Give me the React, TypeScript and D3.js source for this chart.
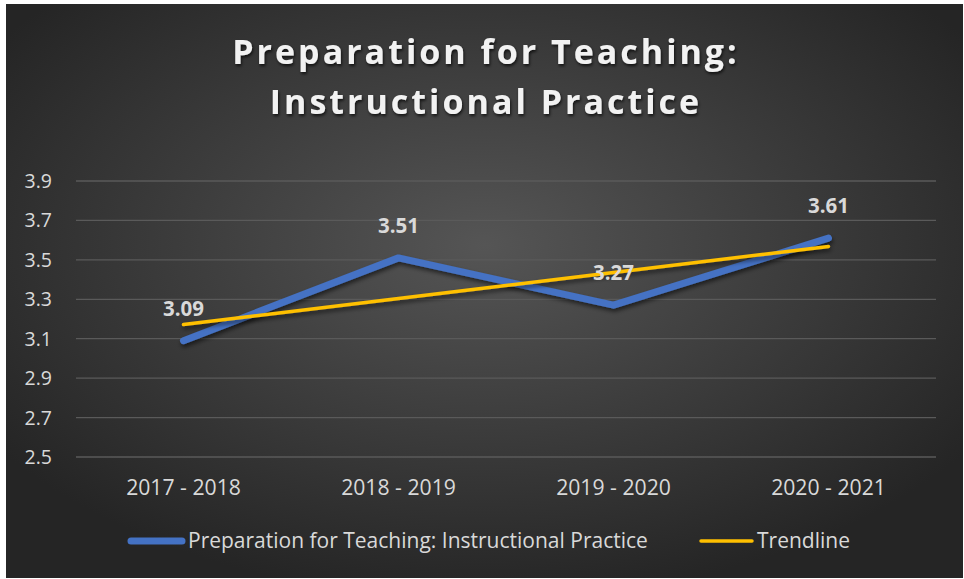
import React from "react";
import * as d3 from "d3";

const categories = ["2017 - 2018", "2018 - 2019", "2019 - 2020", "2020 - 2021"];
const values = [3.09, 3.51, 3.27, 3.61];
const yTicks = [2.5, 2.7, 2.9, 3.1, 3.3, 3.5, 3.7, 3.9];
const titleLines = ["Preparation for Teaching:", "Instructional Practice"];
const seriesName = "Preparation for Teaching: Instructional Practice";
const trendName = "Trendline";

const W = 964;
const H = 579;

export default function App() {
  const x = d3.scaleBand<string>().domain(categories).range([76, 936]);
  const y = d3.scaleLinear().domain([2.5, 3.9]).range([457, 181]);
  const cx = (c: string) => (x(c) as number) + x.bandwidth() / 2;

  // linear regression trendline
  const idx = values.map((_, i) => i + 1);
  const mx = d3.mean(idx) as number;
  const my = d3.mean(values) as number;
  const slope =
    d3.sum(idx.map((xi, i) => (xi - mx) * (values[i] - my))) /
    d3.sum(idx.map((xi) => (xi - mx) ** 2));
  const intercept = my - slope * mx;
  const trend = idx.map((xi) => intercept + slope * xi);

  const line = d3
    .line<number>()
    .x((_, i) => cx(categories[i]))
    .y((d) => y(d));

  const font = "'Open Sans', 'Noto Sans', sans-serif";

  return (
    <div style={{ position: "absolute", left: 0, top: 0 }}>
      <svg width={W} height={H} style={{ display: "block" }}>
        <defs>
          <radialGradient id="bg" cx="0.5" cy="0.42" r="0.62" gradientUnits="objectBoundingBox">
            <stop offset="0" stopColor="#555555" />
            <stop offset="1" stopColor="#252525" />
          </radialGradient>
          <filter id="shadow" x="-10%" y="-30%" width="120%" height="160%">
            <feDropShadow dx="1" dy="3" stdDeviation="2" floodColor="#000" floodOpacity="0.55" />
          </filter>
          <filter id="tshadow" x="-10%" y="-30%" width="120%" height="160%">
            <feDropShadow dx="1" dy="2" stdDeviation="1.5" floodColor="#000" floodOpacity="0.7" />
          </filter>
        </defs>
        <rect x={0} y={0} width={W} height={H} fill="#ffffff" />
        <rect x={6} y={4} width={957} height={574} fill="url(#bg)" />

        {/* title */}
        <g filter="url(#tshadow)">
          {titleLines.map((t, i) => (
            <text
              key={t}
              x={486}
              y={64 + i * 50}
              textAnchor="middle"
              fill="#f2f2f2"
              fontFamily={font}
              fontWeight={700}
              fontSize={34}
              letterSpacing={3}
            >
              {t}
            </text>
          ))}
        </g>

        {/* gridlines */}
        {yTicks.map((t) => (
          <line key={t} x1={76} x2={936} y1={y(t)} y2={y(t)} stroke="#5a5a5a" strokeWidth={1.3} />
        ))}
        {/* y tick labels */}
        {yTicks.map((t) => (
          <text
            key={"l" + t}
            x={52}
            y={y(t) + 7}
            textAnchor="end"
            fill="#d9d9d9"
            fontFamily={font}
            fontSize={19.5}
          >
            {t.toFixed(1)}
          </text>
        ))}
        {/* x labels */}
        {categories.map((c) => (
          <text
            key={c}
            x={cx(c)}
            y={495}
            textAnchor="middle"
            fill="#d9d9d9"
            fontFamily={font}
            fontSize={21.2}
          >
            {c}
          </text>
        ))}

        {/* series line */}
        <path
          d={line(values) as string}
          fill="none"
          stroke="#4472C4"
          strokeWidth={7}
          strokeLinecap="round"
          strokeLinejoin="round"
          filter="url(#shadow)"
        />
        {/* trendline */}
        <path
          d={line(trend) as string}
          fill="none"
          stroke="#FFC000"
          strokeWidth={3.5}
          strokeLinecap="round"
          filter="url(#shadow)"
        />

        {/* data labels */}
        {values.map((v, i) => (
          <text
            key={"d" + i}
            x={cx(categories[i])}
            y={y(v) - 25}
            textAnchor="middle"
            fill="#d9d9d9"
            fontFamily={font}
            fontWeight={700}
            fontSize={20.5}
          >
            {v.toFixed(2)}
          </text>
        ))}

        {/* legend */}
        <line x1={131} x2={182} y1={541} y2={541} stroke="#4472C4" strokeWidth={7} strokeLinecap="round" />
        <text x={188} y={548} fill="#d9d9d9" fontFamily={font} fontSize={21}>
          {seriesName}
        </text>
        <line x1={701} x2={752} y1={541} y2={541} stroke="#FFC000" strokeWidth={3.5} strokeLinecap="round" />
        <text x={757} y={548} fill="#d9d9d9" fontFamily={font} fontSize={21}>
          {trendName}
        </text>
      </svg>
    </div>
  );
}
